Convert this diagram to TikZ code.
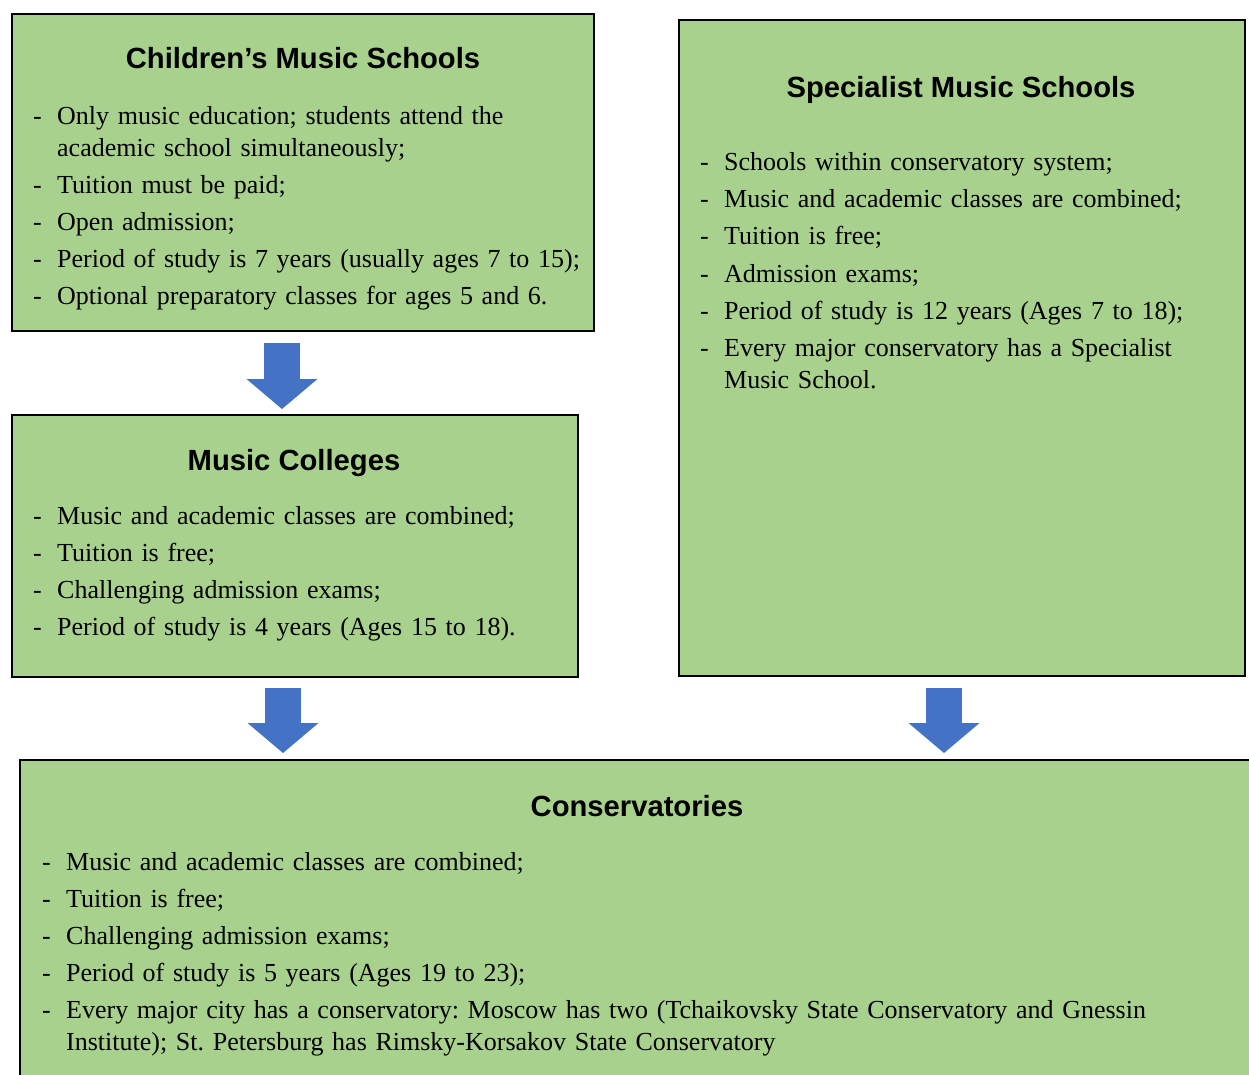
\documentclass[tikz,border=0pt]{standalone}
\usepackage{fontspec}
\setmainfont{Liberation Serif}
\setsansfont{Liberation Sans}
\usetikzlibrary{arrows.meta}
\definecolor{boxgreen}{HTML}{A9D18E}
\definecolor{arrowblue}{HTML}{4472C4}
\newcommand{\dashitem}[1]{\par\hangindent=24pt\hangafter=1\noindent\strut\makebox[24pt][l]{-}#1\par}
\frenchspacing

\begin{document}
\begin{tikzpicture}[x=1pt, y=-1pt,
    box/.style={draw=black, line width=2.8pt, fill=boxgreen, inner sep=0pt, outer sep=0pt},
    title/.style={anchor=base, inner sep=0pt, font=\sffamily\bfseries\fontsize{29.2}{35}\selectfont},
    blist/.style={anchor=north west, inner sep=0pt, align=left, font=\fontsize{26}{32}\selectfont,
        execute at begin node={\setlength{\parskip}{5.2pt}\hyphenpenalty=10000}},
    bigarrow/.style={arrowblue, line width=36pt, -{Triangle[width=71pt,length=30pt,line width=0pt]}}]
        \useasboundingbox (0,0) rectangle (1249,1074);
        \clip (0,0) rectangle (1249,1074);

        \node[box, minimum width=582, minimum height=317] (cms) at (303,172.5) {};
        \node[title] (cmstitle) at (303,68) {Children’s Music Schools};
        \node[blist, text width=552] (cmslist) at (33,86.6) {%
            \dashitem{Only music education; students attend the academic school simultaneously;}
            \dashitem{Tuition must be paid;}
            \dashitem{Open admission;}
            \dashitem{Period of study is 7 years (usually ages 7 to 15);}
            \dashitem{Optional preparatory classes for ages 5 and 6.}};

        \node[box, minimum width=566, minimum height=262] (mc) at (295,546) {};
        \node[title] (mctitle) at (294,470) {Music Colleges};
        \node[blist, text width=530] (mclist) at (33,486.6) {%
            \dashitem{Music and academic classes are combined;}
            \dashitem{Tuition is free;}
            \dashitem{Challenging admission exams;}
            \dashitem{Period of study is 4 years (Ages 15 to 18).}};

        \node[box, minimum width=566, minimum height=656] (sms) at (962,348) {};
        \node[title] (smstitle) at (961,97) {Specialist Music Schools};
        \node[blist, text width=525] (smslist) at (700,133.1) {%
            \dashitem{Schools within conservatory system;}
            \dashitem{Music and academic classes are combined;}
            \dashitem{Tuition is free;}
            \dashitem{Admission exams;}
            \dashitem{Period of study is 12 years (Ages 7 to 18);}
            \dashitem{Every major conservatory has a Specialist Music School.}};

        \node[box, minimum width=1234, minimum height=330] (cons) at (637,925) {};
        \node[title] (constitle) at (637,816) {Conservatories};
        \node[blist, text width=1160] (conslist) at (42,832.6) {%
            \dashitem{Music and academic classes are combined;}
            \dashitem{Tuition is free;}
            \dashitem{Challenging admission exams;}
            \dashitem{Period of study is 5 years (Ages 19 to 23);}
            \dashitem{Every major city has a conservatory: Moscow has two (Tchaikovsky State Conservatory and Gnessin Institute); St. Petersburg has Rimsky-Korsakov State Conservatory}};

        \coordinate (a1) at (282,0);
        \coordinate (a2) at (283,0);
        \coordinate (a3) at (944,0);
        \draw[bigarrow, shorten <=12pt, shorten >=6pt] (a1 |- cms.south) -- (a1 |- mc.north);
        \draw[bigarrow, shorten <=11pt, shorten >=7pt] (a2 |- mc.south) -- (a2 |- cons.north);
        \draw[bigarrow, shorten <=12pt, shorten >=7pt] (a3 |- sms.south) -- (a3 |- cons.north);
    \end{tikzpicture}
\end{document}
